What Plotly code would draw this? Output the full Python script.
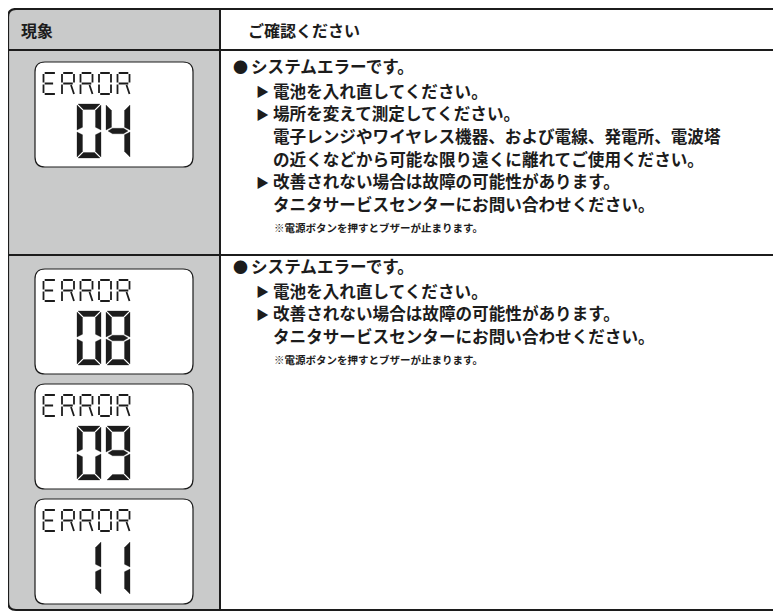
import plotly.graph_objects as go

# ---------------- data ----------------
header_labels = ["現象", "ご確認ください"]

row1_codes = ["04"]
row2_codes = ["08", "09", "11"]
lcd_label = "ERROR"

row1_title = "システムエラーです。"
row1_lines = [
    ("▶", "電池を入れ直してください。"),
    ("▶", "場所を変えて測定してください。"),
    ("", "電子レンジやワイヤレス機器、および電線、発電所、電波塔"),
    ("", "の近くなどから可能な限り遠くに離れてご使用ください。"),
    ("▶", "改善されない場合は故障の可能性があります。"),
    ("", "タニタサービスセンターにお問い合わせください。"),
]
row1_note = "※電源ボタンを押すとブザーが止まります。"

row2_title = "システムエラーです。"
row2_lines = [
    ("▶", "電池を入れ直してください。"),
    ("▶", "改善されない場合は故障の可能性があります。"),
    ("", "タニタサービスセンターにお問い合わせください。"),
]
row2_note = "※電源ボタンを押すとブザーが止まります。"

# ---------------- style / layout ----------------
W, H = 781, 612
PAGE_OFF = 8          # default body margin of the html page
GREY = "#c9caca"
INK = "#1c1c1c"
FONT = "Noto Sans CJK JP"

TX0, TY0, TX1, TY1 = 8, 9, 786, 610      # outer table
COLX = 220                               # column divider
HDR_Y = 50                               # header bottom
ROW2_Y = 255                             # row divider

BOX_X0, BOX_X1, BOX_H = 35, 193, 105

SEG = {"0": "abcdef", "1": "bc", "4": "bcfg", "8": "abcdefg", "9": "abcdfg"}

shapes = []
annotations = []


def rrect(x0, y0, x1, y1, r):
    return (f"M {x0+r},{y0} L {x1-r},{y0} Q {x1},{y0} {x1},{y0+r} "
            f"L {x1},{y1-r} Q {x1},{y1} {x1-r},{y1} L {x0+r},{y1} "
            f"Q {x0},{y1} {x0},{y1-r} L {x0},{y0+r} Q {x0},{y0} {x0+r},{y0} Z")


def poly(pts):
    return "M " + " L ".join(f"{x:.2f},{y:.2f}" for x, y in pts) + " Z"


def digit_segments(x0, y0, w, h, t, g):
    ym = y0 + h / 2
    return {
        "a": [(x0 + g, y0), (x0 + w - g, y0), (x0 + w - t - g, y0 + t), (x0 + t + g, y0 + t)],
        "d": [(x0 + g, y0 + h), (x0 + w - g, y0 + h), (x0 + w - t - g, y0 + h - t), (x0 + t + g, y0 + h - t)],
        "g": [(x0 + g + 1, ym), (x0 + t + g, ym - t / 2), (x0 + w - t - g, ym - t / 2),
              (x0 + w - g - 1, ym), (x0 + w - t - g, ym + t / 2), (x0 + t + g, ym + t / 2)],
        "f": [(x0, y0 + g), (x0 + t, y0 + t + g), (x0 + t, ym - t / 2 - g), (x0, ym - g)],
        "e": [(x0, ym + g), (x0 + t, ym + t / 2 + g), (x0 + t, y0 + h - t - g), (x0, y0 + h - g)],
        "b": [(x0 + w, y0 + g), (x0 + w - t, y0 + t + g), (x0 + w - t, ym - t / 2 - g), (x0 + w, ym - g)],
        "c": [(x0 + w, ym + g), (x0 + w - t, ym + t / 2 + g), (x0 + w - t, y0 + h - t - g), (x0 + w, y0 + h - g)],
    }


# thin LCD letter strokes in unit box (x right, y down)
LETTER = {
    "E": [((0.1, 0), (0.95, 0)), ((0.1, 0.5), (0.8, 0.5)), ((0.1, 1), (0.95, 1)),
          ((0, 0.05), (0, 0.45)), ((0, 0.55), (0, 0.95))],
    "R": [((0.1, 0), (0.9, 0)), ((0, 0.05), (0, 0.45)), ((0, 0.55), (0, 1)),
          ((1, 0.05), (1, 0.45)), ((0.1, 0.5), (0.9, 0.5)), ((0.75, 0.57), (1, 1))],
    "O": [((0.1, 0), (0.9, 0)), ((0.1, 1), (0.9, 1)), ((0, 0.05), (0, 0.45)),
          ((0, 0.55), (0, 0.95)), ((1, 0.05), (1, 0.45)), ((1, 0.55), (1, 0.95))],
}


def lcd(top, code):
    shapes.append(dict(type="path", path=rrect(BOX_X0, top, BOX_X1, top + BOX_H, 10),
                       fillcolor="white", line=dict(color=INK, width=1.2), layer="above"))
    # ERROR label
    lw, lh, pitch = 12, 21, 18.5
    lx0, ly0 = BOX_X0 + 8.5, top + 11
    for i, ch in enumerate(lcd_label):
        x = lx0 + i * pitch
        parts = []
        for (ax, ay), (bx, by) in LETTER[ch]:
            parts.append(f"M {x + ax*lw:.2f},{ly0 + ay*lh:.2f} L {x + bx*lw:.2f},{ly0 + by*lh:.2f}")
        shapes.append(dict(type="path", path=" ".join(parts),
                           line=dict(color=INK, width=1.8), layer="above"))
    # big digits
    for k, ch in enumerate(code):
        x0 = BOX_X0 + 42 + k * 29
        segs = digit_segments(x0, top + 42, 24, 54, 5.5, 1.0)
        for s in SEG[ch]:
            shapes.append(dict(type="path", path=poly(segs[s]), fillcolor=INK,
                               line=dict(color=INK, width=0.3), layer="above"))


# grey left column
shapes.append(dict(type="path",
                   path=(f"M {TX0+8},{TY0} L {COLX},{TY0} L {COLX},{TY1} L {TX0+8},{TY1} "
                         f"Q {TX0},{TY1} {TX0},{TY1-8} L {TX0},{TY0+8} Q {TX0},{TY0} {TX0+8},{TY0} Z"),
                   fillcolor=GREY, line=dict(width=0), layer="below"))
# header / row dividers
for yy in (HDR_Y, ROW2_Y):
    shapes.append(dict(type="line", x0=TX0, x1=TX1, y0=yy, y1=yy,
                       line=dict(color=INK, width=2), layer="above"))
shapes.append(dict(type="line", x0=COLX, x1=COLX, y0=TY0, y1=TY1,
                   line=dict(color=INK, width=2), layer="above"))
# outer border
shapes.append(dict(type="path", path=rrect(TX0, TY0, TX1, TY1, 8),
                   line=dict(color=INK, width=2.2), layer="above"))

# LCD panels
for code in row1_codes:
    lcd(HDR_Y + 12, code)
for k, code in enumerate(row2_codes):
    lcd(ROW2_Y + 14 + k * 115, code)


def txt(x, y, s, size):
    annotations.append(dict(x=x, y=y, xref="x", yref="y", text=f"<b>{s}</b>",
                            showarrow=False, xanchor="left", yanchor="middle", align="left",
                            font=dict(family=FONT, size=size, color=INK)))


# header texts
txt(19, 30, header_labels[0], 16)
txt(246, 30, header_labels[1], 16)

FS = 16.6
STEP = 22.7


def block(top, title, lines, note):
    txt(231, top, "●", 15)
    txt(249, top, title, FS)
    y = top + 24.5
    for mark, s in lines:
        if mark:
            txt(254, y, mark, 13)
        txt(271, y, s, FS)
        y += STEP
    txt(272, y + 0.5, note, 10.5)


block(HDR_Y + 16, row1_title, row1_lines, row1_note)
block(ROW2_Y + 11, row2_title, row2_lines, row2_note)

fig = go.Figure()
fig.update_layout(
    width=W - PAGE_OFF, height=H - PAGE_OFF, margin=dict(l=0, r=0, t=0, b=0, autoexpand=False),
    paper_bgcolor="white", plot_bgcolor="white",
    xaxis=dict(range=[PAGE_OFF, W], visible=False, fixedrange=True),
    yaxis=dict(range=[H, PAGE_OFF], visible=False, fixedrange=True),
    shapes=shapes, annotations=annotations, showlegend=False,
)
fig.write_html("out.html")
